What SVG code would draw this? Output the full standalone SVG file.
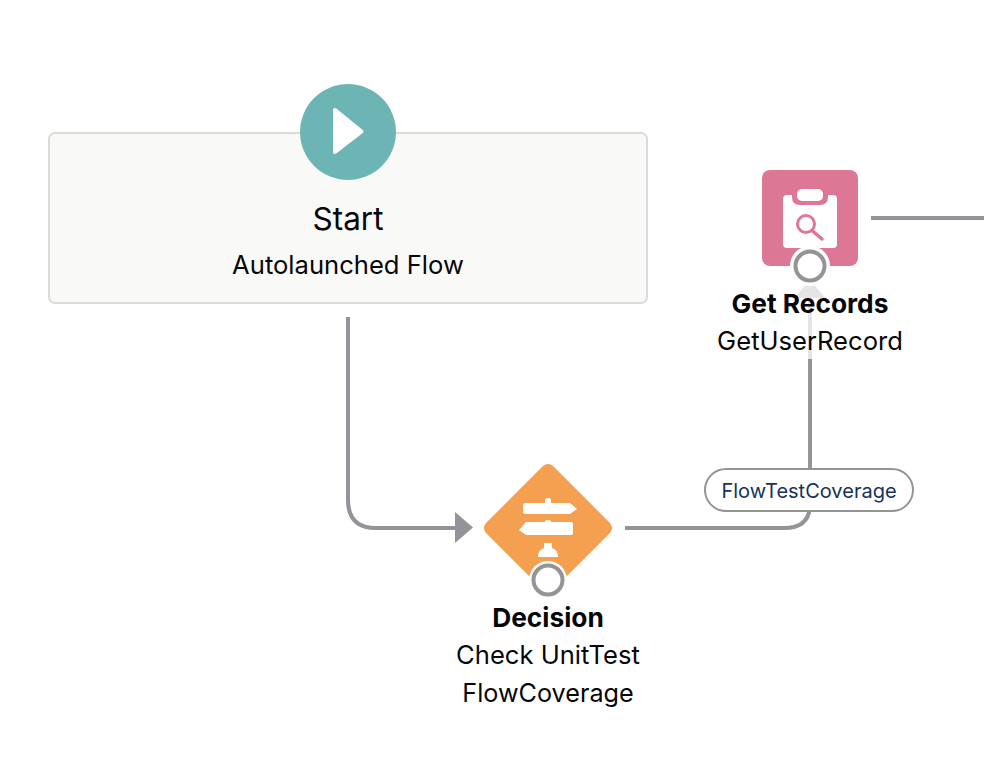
<svg xmlns="http://www.w3.org/2000/svg" width="984" height="774" viewBox="0 0 984 774">
<style>
text{font-family:Inter,"Liberation Sans",sans-serif;fill:#080707;text-anchor:middle}
.sub{font-size:25.600px}
.bold{font-size:26.300px;font-weight:700}
.conn{fill:none;stroke:#939399;stroke-width:4}
.port{fill:#fff;stroke:#969492;stroke-width:4}
.w{fill:#fff}
</style>
<rect width="984" height="774" fill="#fff"/>
<g id="connectors">
<path class="conn" d="M348 317V500Q348 528 376 528H458"/>
<path d="M455 512L473 527.500L455 543Z" fill="#939399"/>
<path class="conn" d="M625 528H784Q810 528 810 504V359"/>
<path d="M810 359V292" fill="none" stroke="#e5e5e5" stroke-width="4"/>
<path d="M794.500 298L810 280L825.500 298Z" fill="#e5e5e5"/>
<path class="conn" d="M871 218H984"/>
<g id="edge-label">
<rect x="705" y="469" width="208" height="42" rx="21" fill="#fff" stroke="#969492" stroke-width="2"/>
<text x="809" y="498" font-size="20" style="fill:#16325c">FlowTestCoverage</text>
</g>
</g>
<g id="start">
<rect x="49" y="133" width="598" height="170" rx="6" fill="#f9f9f7" stroke="#dddbda" stroke-width="2"/>
<circle cx="348" cy="132" r="48" fill="#6db5b4"/>
<path d="M335 110V152L361.500 131.500Z" fill="#fff" stroke="#fff" stroke-width="4" stroke-linejoin="round"/>
<text x="348" y="230" font-size="31.500">Start</text>
<text x="348" y="274" class="sub">Autolaunched Flow</text>
</g>
<g id="get-records">
<rect x="762" y="170" width="96" height="96" rx="8" fill="#dc7895"/>
<rect x="783" y="195" width="54" height="53" rx="4" class="w"/>
<path d="M792 192H828V197Q828 205 820 205H800Q792 205 792 197Z" fill="#dc7895"/>
<rect x="797" y="189" width="26" height="12" rx="5" class="w"/>
<circle cx="806" cy="224" r="8.500" fill="none" stroke="#dc7895" stroke-width="3"/>
<path d="M812.500 231L822 239" stroke="#dc7895" stroke-width="3.500" stroke-linecap="round"/>
<circle cx="810" cy="266" r="20" class="w"/>
<circle cx="810" cy="266" r="14.500" class="port"/>
<text x="810" y="312.500" class="bold">Get Records</text>
<text x="810" y="350" class="sub">GetUserRecord</text>
</g>
<g id="decision">
<path d="M541 468Q548 460 555 468L608 521Q616 528 608 535L555 588Q548 595 541 588L488 535Q480 528 488 521Z" fill="#f4a050"/>
<path d="M523 505Q523 503 525 503H545V500Q545 498 548 498Q551 498 551 500V503H570L577 509L570 514H525Q523 514 523 512Z" class="w"/>
<path d="M573 524Q573 522 571 522H551V521Q551 520 548 520Q545 520 545 521V522H526L519 530L526 535H571Q573 535 573 533Z" class="w"/>
<path d="M544 543H552V548Q558 550 558 557H538Q538 550 544 548Z" class="w"/>
<circle cx="548" cy="580" r="19" class="w"/>
<circle cx="548" cy="580" r="14.500" class="port"/>
<text x="548" y="626.500" class="bold">Decision</text>
<text x="548" y="664" class="sub">Check UnitTest</text>
<text x="548" y="702" font-size="25.200">FlowCoverage</text>
</g>
</svg>
